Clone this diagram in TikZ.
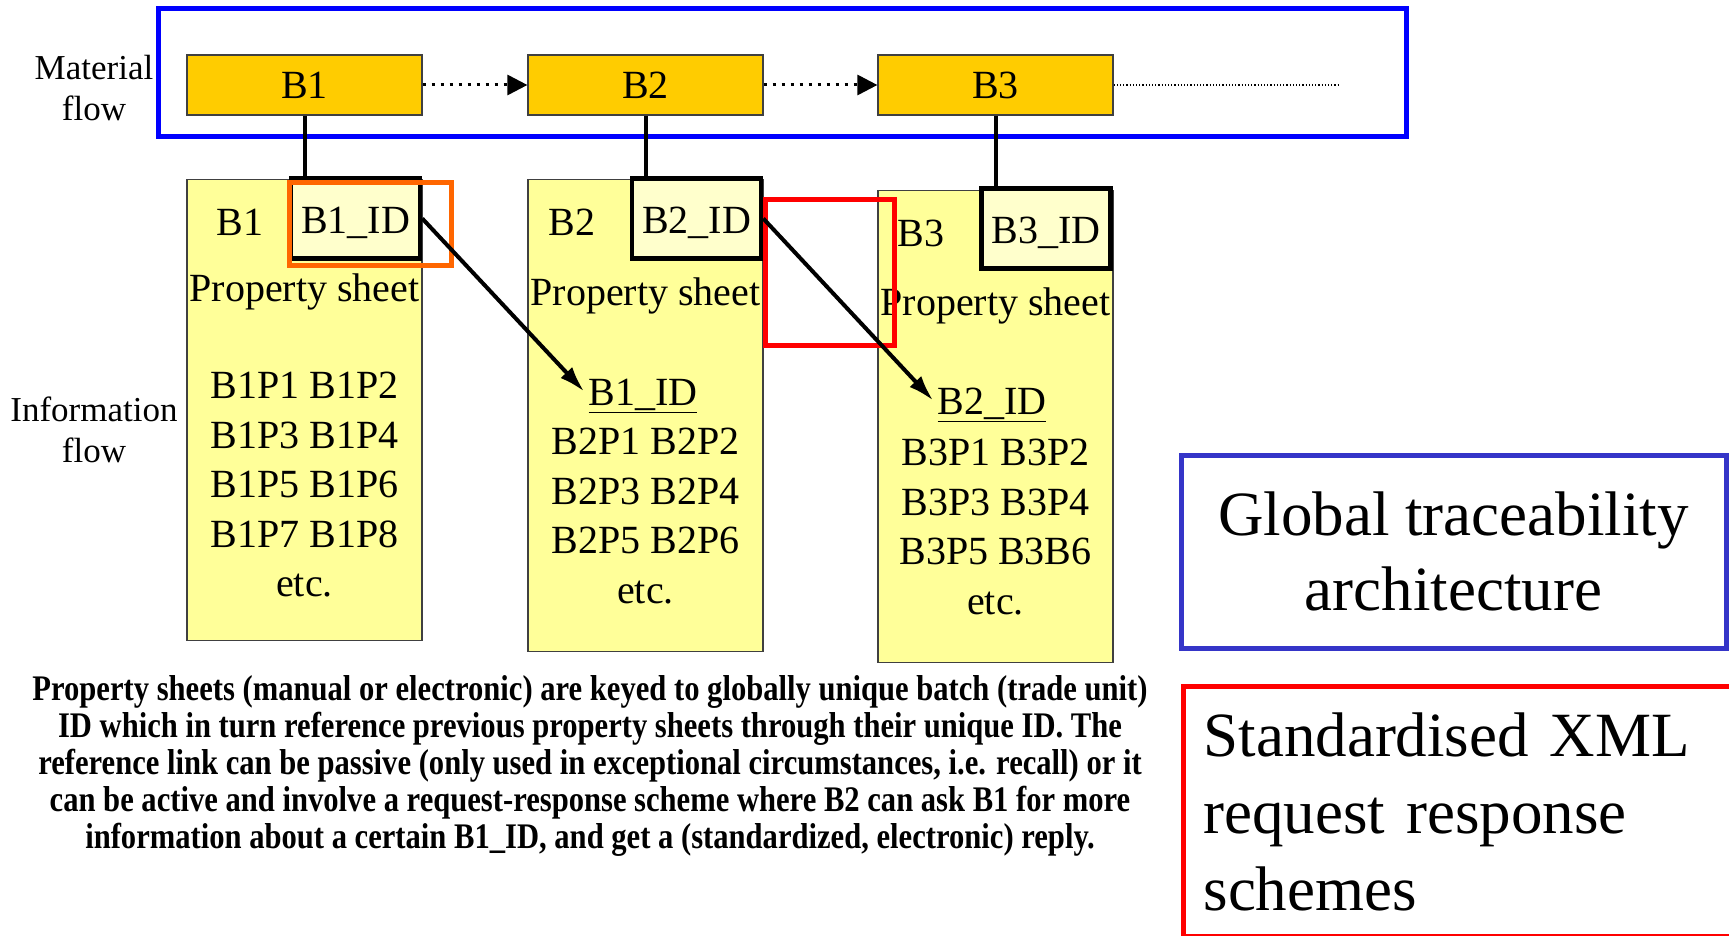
\documentclass[tikz,border=0pt]{standalone}
\usepackage{fontspec}
\setmainfont{Liberation Serif}
\newfontfamily\capfont{Liberation Serif}[FakeStretch=0.85]
\usetikzlibrary{arrows.meta, positioning}
\definecolor{batchx}{HTML}{FFCC00}
\definecolor{sheetx}{HTML}{FFFF99}
\definecolor{idx}{HTML}{FFFFCC}
\definecolor{bluex}{HTML}{0000FF}
\definecolor{navyx}{HTML}{3535C8}
\definecolor{orangex}{HTML}{FF6600}
\definecolor{redx}{HTML}{FF0000}

\begin{document}
\begin{tikzpicture}[x=1pt, y=-1pt,
      batch/.style={rectangle, draw=black!75, line width=1.2pt, fill=batchx,
                    minimum width=235pt, minimum height=60pt, inner sep=0pt,
                    font=\fontsize{40}{48}\selectfont},
      sheet/.style={rectangle, draw=black!75, line width=1.2pt, fill=sheetx,
                    minimum width=235pt, inner sep=0pt, anchor=north},
      idbox/.style={rectangle, draw=black, line width=4.5pt, fill=idx,
                    minimum width=129pt, minimum height=80pt, inner sep=0pt,
                    text height=30pt, text depth=0pt,
                    font=\fontsize{40}{48}\selectfont},
      txt/.style={font=\fontsize{40}{49.5}\selectfont, align=center, inner sep=0pt},
      side/.style={font=\fontsize{35}{41}\selectfont, align=center, inner sep=0pt},
      flowarr/.style={line width=3pt, dash pattern=on 3pt off 6pt,
                      -{Triangle[length=20pt, width=20pt]}},
      trail/.style={line width=1.2pt, dash pattern=on 1.2pt off 2pt},
      link/.style={line width=4pt},
      arr/.style={line width=4pt, -{Latex[length=26pt, width=16pt]}, shorten >=6pt},
      mark box/.style={line width=5pt}
    ]
    \useasboundingbox (0,0) rectangle (1729,936);
    \draw[bluex, line width=5pt] (158,9) rectangle (1406,137);
    \node[side] (mat) at (94,88)  {Material\\flow};
    \node[side] (inf) at (94,430) {Information\\flow};
    \node[batch] (b1) at (304.5,85) {B1};
    \node[batch] (b2) at (645.5,85) {B2};
    \node[batch] (b3) at (995.5,85) {B3};
    \coordinate (tail) at (1340,85);
    \node[sheet, minimum height=461pt] (s1) at (304.5,179) {};
    \node[sheet, minimum height=472pt] (s2) at (645.5,179) {};
    \node[sheet, minimum height=472pt] (s3) at (995.5,190) {};
    \node[idbox] (b1id) at (355.5,218.5) {B1\_ID};
    \node[idbox] (b2id) at (696.5,218.5) {B2\_ID};
    \node[idbox] (b3id) at (1046,228.5)  {B3\_ID};
    \node[txt] (lb1) at (240,222) {B1};
    \node[txt] (lb2) at (572,222) {B2};
    \node[txt] (lb3) at (921,233) {B3};
    \node[txt] (ps1) at (304.5,292) {Property sheet};
    \node[txt] (ps2) at (645.5,296) {Property sheet};
    \node[txt] (ps3) at (995.5,306) {Property sheet};
    \node[txt] (ref1) at (643,396) {\underline{B1\_ID}};
    \node[txt] (ref2) at (992,405) {\underline{B2\_ID}};
    \node[txt] (pr1) at (304.5,485) {B1P1 B1P2\\B1P3 B1P4\\B1P5 B1P6\\B1P7 B1P8\\etc.};
    \node[txt] (pr2) at (645.5,516) {B2P1 B2P2\\B2P3 B2P4\\B2P5 B2P6\\etc.};
    \node[txt] (pr3) at (995.5,527) {B3P1 B3P2\\B3P3 B3P4\\B3P5 B3B6\\etc.};
    \draw[orangex, mark box] (289,183) rectangle (451,265);
    \draw[redx, mark box] (765,200) rectangle (894,345);
    \draw[flowarr] (b1) -- (b2);
    \draw[flowarr] (b2) -- (b3);
    \draw[trail] (b3.east) -- (tail);
    \draw[link] (b1.south) -- (b1.south |- b1id.north);
    \draw[link] (b2.south) -- (b2.south |- b2id.north);
    \draw[link] (b3.south) -- (b3.south |- b3id.north);
    \draw[arr] (b1id.east) -- (ref1.west);
    \draw[arr] (b2id.east) -- (ref2.west);
    \node[inner sep=0pt, align=center, font=\capfont\bfseries\fontsize{36}{37.2}\selectfont] (cap) at (590,766)
      {Property sheets (manual or electronic) are keyed to globally unique batch (trade unit)\\
       ID which in turn reference previous property sheets through their unique ID. The\\
       reference link can be passive (only used in exceptional circumstances, i.e. recall) or it\\
       can be active and involve a request-response scheme where B2 can ask B1 for more\\
       information about a certain B1\_ID, and get a (standardized, electronic) reply.};
    \node[draw=navyx, line width=5pt, minimum width=545pt, minimum height=193pt, align=center,
          font=\fontsize{63}{75}\selectfont] (gta) at (1453.5,551.5)
      {Global traceability\\architecture};
    \node[draw=redx, line width=5pt, anchor=north west, minimum width=560pt, minimum height=250pt,
          text width=520pt, inner xsep=20pt, align=left, font=\fontsize{63}{77}\selectfont] (xml) at (1181,684)
      {Standardised XML\\request response\\schemes};
  \end{tikzpicture}
\end{document}
